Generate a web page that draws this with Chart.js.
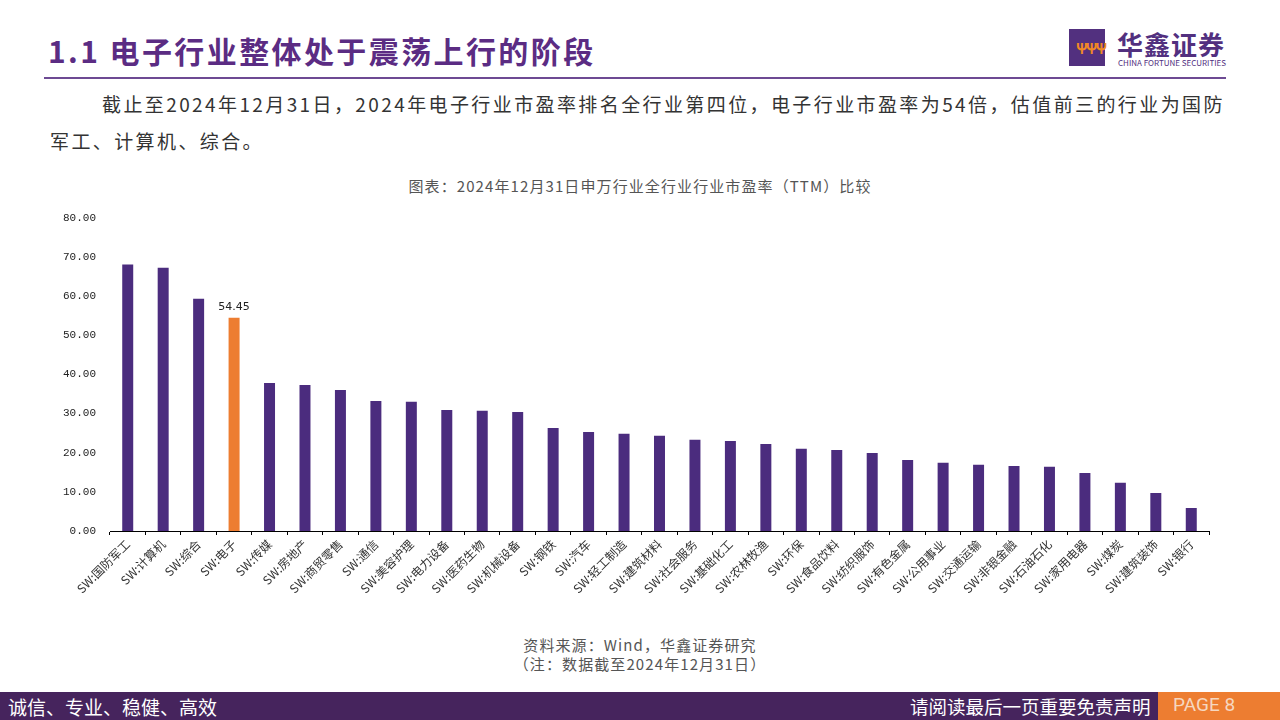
<!DOCTYPE html>
<html>
<head>
<meta charset="utf-8">
<script src="https://cdn.jsdelivr.net/npm/chart.js@4/dist/chart.umd.min.js"></script>
<style>
  body { margin: 0; width: 1280px; height: 720px; background: #fff; position: relative; overflow: hidden;
         font-family: "Noto Sans CJK SC", "Noto Sans", sans-serif; }
  .abs { position: absolute; white-space: nowrap; }
  #title { left: 48px; top: 28px; font-size: 30px; font-weight: bold; color: #5b2c83; letter-spacing: 2.4px; }
  #rule { left: 44px; top: 77px; width: 1182px; height: 2px; background: #6d4a93; }
  #logoBox { left: 1069px; top: 29px; width: 36px; height: 37px; background: #52307f; }
  #logoBox span { position: absolute; left: 7px; top: 9px; font-size: 14px; color: #f08a24; font-weight: bold; letter-spacing: -2px; }
  #logoCn { left: 1117px; top: 25px; font-size: 26px; color: #52307f; letter-spacing: 1px; font-weight: bold; }
  #logoEn { left: 1118px; top: 57px; font-size: 8px; color: #52307f; letter-spacing: 0px; }
  .para { font-size: 19px; color: #333; letter-spacing: 2.4px; }
  #p1 { left: 102px; top: 90px; }
  #p2 { left: 50px; top: 127px; }
  #ctitle { left: 0; width: 1280px; text-align: center; top: 175px; font-size: 15px; color: #555; letter-spacing: 1.1px; }
  .src { left: 0; width: 1280px; text-align: center; font-size: 15px; color: #555; letter-spacing: 1.1px; }
  #src1 { top: 634px; }
  #src2 { top: 653px; }
  #footer { left: 0; top: 692px; width: 1280px; height: 28px; background: #46245d; }
  #fl { left: 8px; top: 693px; font-size: 19px; color: #fff; }
  #fr { left: 910px; top: 693px; font-size: 18.5px; color: #fff; }
  #page { left: 1158px; top: 692px; width: 122px; height: 28px; background: #ed7d31; }
  #pagetxt { left: 1173px; top: 693px; font-size: 19px; color: #f6d7c0; font-family: "Liberation Sans Narrow", "Roboto", sans-serif; }
  #wrap { position: absolute; left: 52px; top: 205px; width: 1170px; height: 420px; }
</style>
</head>
<body>
<div class="abs" id="title">1.1 电子行业整体处于震荡上行的阶段</div>
<div class="abs" id="rule"></div>
<div class="abs" id="logoBox"><span>ΨΨΨ</span></div>
<div class="abs" id="logoCn">华鑫证券</div>
<div class="abs" id="logoEn">CHINA FORTUNE SECURITIES</div>
<div class="abs para" id="p1">截止至2024年12月31日，2024年电子行业市盈率排名全行业第四位，电子行业市盈率为54倍，估值前三的行业为国防</div>
<div class="abs para" id="p2">军工、计算机、综合。</div>
<div class="abs" id="ctitle">图表：2024年12月31日申万行业全行业行业市盈率（TTM）比较</div>
<div id="wrap"><canvas id="peChart"></canvas></div>
<div class="abs src" id="src1">资料来源：Wind，华鑫证券研究</div>
<div class="abs src" id="src2">（注：数据截至2024年12月31日）</div>
<div class="abs" id="footer"></div>
<div class="abs" id="fl">诚信、专业、稳健、高效</div>
<div class="abs" id="fr">请阅读最后一页重要免责声明</div>
<div class="abs" id="page"></div>
<div class="abs" id="pagetxt">PAGE 8</div>

<script>
const industries = [
    "SW:国防军工", "SW:计算机", "SW:综合", "SW:电子", "SW:传媒", "SW:房地产",
    "SW:商贸零售", "SW:通信", "SW:美容护理", "SW:电力设备", "SW:医药生物",
    "SW:机械设备", "SW:钢铁", "SW:汽车", "SW:轻工制造", "SW:建筑材料",
    "SW:社会服务", "SW:基础化工", "SW:农林牧渔", "SW:环保", "SW:食品饮料",
    "SW:纺织服饰", "SW:有色金属", "SW:公用事业", "SW:交通运输", "SW:非银金融",
    "SW:石油石化", "SW:家用电器", "SW:煤炭", "SW:建筑装饰", "SW:银行"
];
const peValues = [
    68.0, 67.2, 59.3, 54.45, 37.8, 37.3,
    36.0, 33.2, 33.0, 30.9, 30.7,
    30.4, 26.3, 25.3, 24.8, 24.3,
    23.3, 23.0, 22.2, 21.0, 20.7,
    19.9, 18.1, 17.4, 16.9, 16.6,
    16.4, 14.8, 12.3, 9.7, 5.9
];
const highlight = "SW:电子";
const yTicks = [0, 10, 20, 30, 40, 50, 60, 70, 80];

const purple = "#4b2c7e";
const orange = "#ed7d31";
const barColors = industries.map(n => n === highlight ? orange : purple);

// only the highlighted bar carries a value label
const valueLabel = {
    id: 'valueLabel',
    afterDatasetsDraw(chart) {
        const ctx = chart.ctx;
        const idx = industries.indexOf(highlight);
        const bar = chart.getDatasetMeta(0).data[idx];
        ctx.save();
        ctx.font = '11px "DejaVu Sans", sans-serif';
        ctx.fillStyle = '#222';
        ctx.textAlign = 'center';
        ctx.textBaseline = 'bottom';
        ctx.fillText(peValues[idx].toFixed(2), bar.x, bar.y - 5);
        ctx.restore();
    }
};

document.addEventListener("DOMContentLoaded", function () {
    const ctx = document.getElementById('peChart').getContext('2d');
    new Chart(ctx, {
        type: 'bar',
        data: {
            labels: industries,
            datasets: [{
                data: peValues,
                backgroundColor: barColors,
                borderWidth: 0,
                barPercentage: 0.31,
                categoryPercentage: 1
            }]
        },
        options: {
            responsive: true,
            maintainAspectRatio: false,
            animation: false,
            layout: { padding: { top: 2, right: 13, left: 0, bottom: 0 } },
            plugins: { legend: { display: false }, tooltip: { enabled: false } },
            scales: {
                y: {
                    min: 0, max: 80,
                    afterBuildTicks: axis => { axis.ticks = yTicks.map(v => ({ value: v })); },
                    afterFit: axis => { axis.width = 58; },
                    border: { display: false },
                    grid: { display: false },
                    ticks: {
                        color: '#222',
                        padding: 6,
                        font: { size: 11, family: '"Liberation Mono", monospace' },
                        callback: v => v.toFixed(2)
                    }
                },
                x: {
                    afterFit: axis => { axis.height = 94; },
                    border: { display: true, color: '#000', width: 1 },
                    grid: { display: true, drawOnChartArea: false, drawTicks: true, tickLength: 4, color: '#000', offset: true },
                    ticks: {
                        color: '#333',
                        autoSkip: false,
                        maxRotation: 45,
                        minRotation: 45,
                        padding: 2,
                        font: { size: 12, family: '"Noto Sans CJK SC", sans-serif' }
                    }
                }
            }
        },
        plugins: [valueLabel]
    });
});
</script>
</body>
</html>
